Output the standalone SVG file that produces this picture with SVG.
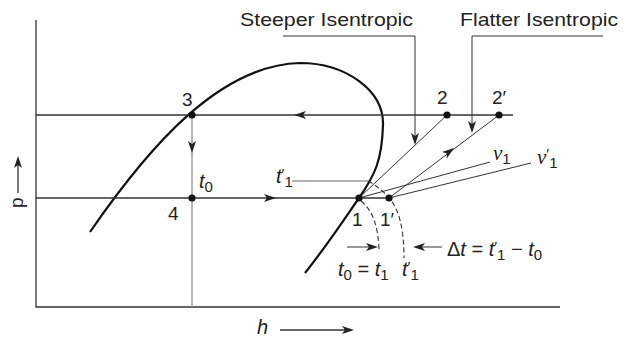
<svg xmlns="http://www.w3.org/2000/svg" xmlns:xlink="http://www.w3.org/1999/xlink" width="623" height="338" viewBox="0 0 623 338">
<style>
.lbl{font-family:"Liberation Sans",Arial,sans-serif;font-size:19px;fill:#222}
.tl{font-family:"Liberation Sans",Arial,sans-serif;font-size:20px;fill:#222}
.it{font-style:italic}
.ser{font-family:"Liberation Serif","Times New Roman",serif;font-style:italic;font-size:21px;fill:#222}
.sub{font-size:15px;font-style:normal;font-family:"Liberation Sans",Arial,sans-serif}
.pr{font-size:15px;font-style:normal;font-family:"Liberation Sans",Arial,sans-serif}
.ln{stroke:#333;stroke-width:1.3;fill:none}
.thin{stroke:#333;stroke-width:1;fill:none}
.gray{stroke:#999;stroke-width:1.4;fill:none}
.dome{stroke:#111;stroke-width:2.2;fill:none}
.dash{stroke:#333;stroke-width:1.1;fill:none;stroke-dasharray:5 3}
.dot{fill:#111}
.ah{fill:#222}
</style>
<defs>
<path id="ah" d="M0,0 L-12,-4 L-9,0 L-12,4 z"/>
</defs>
<rect width="623" height="338" fill="#fff"/>

<g id="axes">
<path class="ln" d="M36,20 V307 H560"/>
<line class="ln" x1="18" y1="193" x2="18" y2="162"/>
<use href="#ah" class="ah" transform="translate(18,156) rotate(-90)"/>
<text class="lbl" transform="translate(23,208) rotate(-90)">p</text>
<line class="ln" x1="280" y1="330" x2="348" y2="330"/>
<use href="#ah" class="ah" transform="translate(354,330)"/>
<text class="tl it" x="257" y="334">h</text>
</g>

<g id="dome">
<path class="dome" d="M90,232 C150,145 220,65 300,63 C345,63 384,90 383,125 C382,160 375,175 359,198 C343,221 325,248 305,273"/>
</g>

<g id="connectors">
<line class="ln" x1="36" y1="115" x2="513" y2="115"/>
<line class="ln" x1="36" y1="198" x2="390" y2="198"/>
<line class="gray" x1="192" y1="115" x2="192" y2="307"/>
<line class="gray" x1="292" y1="181" x2="368" y2="181"/>
<line class="thin" x1="359" y1="198" x2="447" y2="115"/>
<line class="thin" x1="389" y1="198" x2="499" y2="115"/>
<line class="thin" x1="359" y1="198" x2="490" y2="162"/>
<line class="thin" x1="389" y1="198" x2="531" y2="163"/>
<path class="dash" d="M361,201 Q378,214 379,250"/>
<path class="dash" d="M368,181 Q381,188 389,198 Q404,214 404,258"/>
<use href="#ah" class="ah" transform="translate(294,115) rotate(180)"/>
<use href="#ah" class="ah" transform="translate(276,198)"/>
<use href="#ah" class="ah" transform="translate(192,153) rotate(90)"/>
<use href="#ah" class="ah" transform="translate(454,148) rotate(-37)"/>
<path class="thin" d="M283,36 H415 V140"/>
<use href="#ah" class="ah" transform="translate(415,145) rotate(90)"/>
<path class="thin" d="M603,36 H472 V128"/>
<use href="#ah" class="ah" transform="translate(472,133) rotate(90)"/>
<line class="thin" x1="347" y1="247" x2="373" y2="247"/>
<use href="#ah" class="ah" transform="translate(378,247)"/>
<line class="thin" x1="442" y1="247" x2="418" y2="247"/>
<use href="#ah" class="ah" transform="translate(413,247) rotate(180)"/>
</g>

<g id="node-3">
<circle class="dot" cx="192" cy="115" r="3.6"/>
<text class="lbl" x="182" y="106">3</text>
</g>
<g id="node-4">
<circle class="dot" cx="192" cy="198" r="3.6"/>
<text class="lbl" x="168" y="220">4</text>
<text class="tl it" x="199" y="188">t<tspan class="sub" dy="4">0</tspan></text>
</g>
<g id="node-2">
<circle class="dot" cx="447" cy="115" r="3.6"/>
<text class="lbl" x="437" y="104">2</text>
</g>
<g id="node-2p">
<circle class="dot" cx="499" cy="115" r="3.6"/>
<text class="lbl" x="492" y="104">2′</text>
</g>
<g id="node-1">
<circle class="dot" cx="359" cy="198" r="3.6"/>
<text class="lbl" x="352" y="226">1</text>
</g>
<g id="node-1p">
<circle class="dot" cx="389" cy="198" r="3.6"/>
<text class="lbl" x="380" y="226">1′</text>
</g>

<g id="labels">
<text class="lbl" x="240" y="26" textLength="173" lengthAdjust="spacingAndGlyphs">Steeper Isentropic</text>
<text class="lbl" x="460" y="26" textLength="158" lengthAdjust="spacingAndGlyphs">Flatter Isentropic</text>
<text class="tl it" x="276" y="183">t<tspan class="pr" dy="-4">′</tspan><tspan class="sub" dy="8">1</tspan></text>
<text class="ser" x="493" y="160">v<tspan class="sub" dy="4">1</tspan></text>
<text class="ser" x="537" y="164">v<tspan class="pr" dy="-5">′</tspan><tspan class="sub" dy="9">1</tspan></text>
<text class="tl" x="338" y="276"><tspan class="it">t</tspan><tspan class="sub" dy="4">0</tspan><tspan dy="-4"> = </tspan><tspan class="it">t</tspan><tspan class="sub" dy="4">1</tspan></text>
<text class="tl it" x="402" y="276">t<tspan class="pr" dy="-4">′</tspan><tspan class="sub" dy="8">1</tspan></text>
<text class="tl" x="447" y="256">Δ<tspan class="it">t</tspan> = <tspan class="it">t</tspan><tspan class="pr" dy="-4">′</tspan><tspan class="sub" dy="8">1</tspan><tspan dy="-4"> − </tspan><tspan class="it">t</tspan><tspan class="sub" dy="4">0</tspan></text>
</g>
</svg>
